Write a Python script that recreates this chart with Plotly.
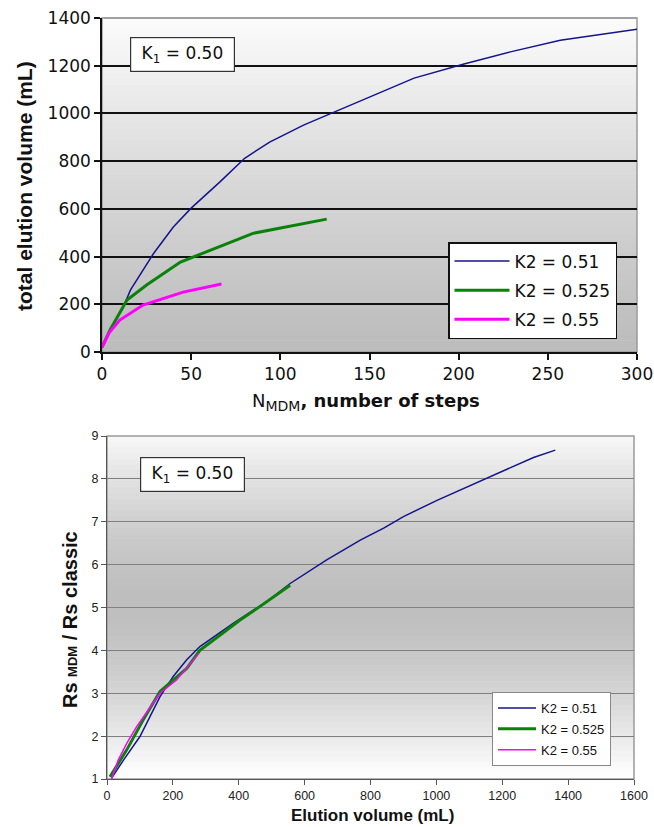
import plotly.graph_objects as go

# ---------------- data ----------------
# Top chart: total elution volume (mL) vs number of steps
steps_051 = [0, 6, 12, 16, 29, 40, 50, 66, 80, 94, 113, 126, 150, 175, 203, 229, 257, 300]
vol_051 = [20, 110, 190, 260, 414, 524, 603, 712, 812, 880, 951, 993, 1070, 1148, 1207, 1258, 1307, 1353]
steps_0525 = [0, 4.5, 14, 25, 44, 51, 85, 126]
vol_0525 = [20, 92, 218, 281, 377, 398, 498, 557]
steps_055 = [0, 4, 10, 23, 45.5, 67]
vol_055 = [20, 80, 134, 197, 251, 285]

# Bottom chart: Rs MDM / Rs classic vs elution volume (mL)
ev_051 = [14, 50, 100, 161, 201, 242, 282, 383, 485, 556, 667, 769, 840, 900, 1002, 1153, 1234, 1295, 1361]
rs_051 = [1.02, 1.44, 1.99, 2.92, 3.39, 3.78, 4.09, 4.63, 5.14, 5.56, 6.11, 6.57, 6.85, 7.12, 7.5, 8.01, 8.28, 8.5, 8.67]
ev_0525 = [9, 60, 110, 161, 242, 282, 404, 464, 556]
rs_0525 = [1.05, 1.68, 2.38, 3.04, 3.58, 4.0, 4.71, 5.02, 5.52]
ev_055 = [14, 34, 60, 90, 161, 211, 279]
rs_055 = [1.0, 1.44, 1.83, 2.22, 3.0, 3.31, 3.93]

series_names = ["K2 = 0.51", "K2 = 0.525", "K2 = 0.55"]
series_colors = ["#14148c", "#0a820a", "#ff00ff"]
top_widths = [1.5, 3, 3]
bot_widths = [1.5, 3, 1.5]

top_xticks = [0, 50, 100, 150, 200, 250, 300]
top_yticks = [0, 200, 400, 600, 800, 1000, 1200, 1400]
bot_xticks = [0, 200, 400, 600, 800, 1000, 1200, 1400, 1600]
bot_yticks = [1, 2, 3, 4, 5, 6, 7, 8, 9]

W, H = 654, 827
FONT = "Liberation Sans, Arial, sans-serif"
WIDE = "DejaVu Sans, Liberation Sans, sans-serif"

def px_dom_x(a, b):
    return [a / W, b / W]

def px_dom_y(top, bottom):
    return [1 - bottom / H, 1 - top / H]

fig = go.Figure()

top_data = [(steps_051, vol_051), (steps_0525, vol_0525), (steps_055, vol_055)]
bot_data = [(ev_051, rs_051), (ev_0525, rs_0525), (ev_055, rs_055)]

for i, (xs, ys) in enumerate(top_data):
    fig.add_trace(go.Scatter(x=xs, y=ys, mode="lines", name=series_names[i],
                             legendgroup=f"top{i}",
                             line=dict(color=series_colors[i], width=top_widths[i]),
                             xaxis="x", yaxis="y", legend="legend"))
for i, (xs, ys) in enumerate(bot_data):
    fig.add_trace(go.Scatter(x=xs, y=ys, mode="lines", name=series_names[i],
                             legendgroup=f"bot{i}",
                             line=dict(color=series_colors[i], width=bot_widths[i]),
                             xaxis="x2", yaxis="y2", legend="legend2"))

# gradient backgrounds built from strips
shapes = []
N = 60
def grey(v):
    v = int(round(v))
    return f"rgb({v},{v},{v})"

for k in range(N):
    t0, t1 = k / N, (k + 1) / N
    tm = (t0 + t1) / 2  # 0 bottom -> 1 top
    v = 188 + (252 - 188) * tm ** 1.2
    shapes.append(dict(type="rect", xref="x domain", yref="y domain", x0=0, x1=1,
                       y0=t0, y1=t1 + 0.002, fillcolor=grey(v), line=dict(width=0), layer="below"))
    d = abs(tm - 0.52) / 0.5
    v2 = 190 + (253 - 190) * min(1, d) ** 1.6
    shapes.append(dict(type="rect", xref="x2 domain", yref="y2 domain", x0=0, x1=1,
                       y0=t0, y1=t1 + 0.002, fillcolor=grey(v2), line=dict(width=0), layer="below"))

shapes.append(dict(type="rect", xref="x domain", yref="y domain", x0=0, x1=1, y0=0, y1=1,
                   line=dict(color="#9a9a9a", width=1.5), layer="below"))
shapes.append(dict(type="rect", xref="x2 domain", yref="y2 domain", x0=0, x1=1, y0=0, y1=1,
                   line=dict(color="#9a9a9a", width=1.5), layer="below"))
shapes.append(dict(type="line", xref="x domain", yref="y domain", x0=0.003, x1=1, y0=1, y1=1,
                   line=dict(color="#a0a0a0", width=2), layer="above"))

fig.update_layout(shapes=shapes)

fig.update_layout(
    width=W, height=H,
    margin=dict(l=0, r=0, t=0, b=0, autoexpand=False),
    paper_bgcolor="white",
    plot_bgcolor="rgba(0,0,0,0)",
    font=dict(family=FONT, color="#111"),
    xaxis=dict(domain=px_dom_x(102, 637), range=[0, 300], tickvals=top_xticks, automargin=False,
               showgrid=False, zeroline=False, showline=True, linecolor="#111", linewidth=1.5,
               ticks="outside", ticklen=6, tickcolor="#111", tickwidth=1.5,
               tickfont=dict(size=17, family=WIDE, color="#111"), anchor="y"),
    yaxis=dict(domain=px_dom_y(18, 352), range=[0, 1400], tickvals=top_yticks, automargin=False,
               showgrid=True, gridcolor="#111", gridwidth=1.5, zeroline=False,
               showline=True, linecolor="#111", linewidth=1.5,
               ticks="outside", ticklen=6, tickcolor="#111", tickwidth=1.5,
               tickfont=dict(size=17, family=WIDE, color="#111"), anchor="x"),
    xaxis2=dict(domain=px_dom_x(107, 634), range=[0, 1600], tickvals=bot_xticks, automargin=False,
                showgrid=False, zeroline=False, showline=True, linecolor="#555", linewidth=1.2,
                ticks="outside", ticklen=5, tickcolor="#555", tickwidth=1,
                tickfont=dict(size=12.5, family=FONT, color="#222"), anchor="y2"),
    yaxis2=dict(domain=px_dom_y(436, 779), range=[1, 9], tickvals=bot_yticks, automargin=False,
                showgrid=True, gridcolor="#7f7f7f", gridwidth=1, zeroline=False,
                showline=True, linecolor="#555", linewidth=1.2,
                ticks="outside", ticklen=5, tickcolor="#555", tickwidth=1,
                tickfont=dict(size=12.5, family=FONT, color="#222"), anchor="x2"),
    legend=dict(x=448 / W, y=1 - 242 / H, xanchor="left", yanchor="top", itemwidth=55,
                bgcolor="white", bordercolor="#111", borderwidth=1.5,
                font=dict(size=17, family=WIDE, color="#111"), tracegroupgap=4),
    legend2=dict(x=492 / W, y=1 - 692 / H, xanchor="left", yanchor="top", itemwidth=38,
                 bgcolor="white", bordercolor="#888", borderwidth=1,
                 font=dict(size=13, family=FONT, color="#111"), tracegroupgap=1),
    showlegend=True,
)

annotations = [
    dict(text="<b>total elution volume (mL)</b>", xref="paper", yref="paper",
         x=24 / W, y=1 - 186 / H, xanchor="center", yanchor="middle", textangle=-90, showarrow=False,
         font=dict(size=21, family=FONT, color="#111")),
    dict(text="N<span style='font-size:20px'><sub>MDM</sub></span><b>, number of steps</b>",
         xref="paper", yref="paper", x=366 / W, y=1 - 402 / H, xanchor="center", yanchor="middle",
         showarrow=False, font=dict(size=18, family=WIDE, color="#111")),
    dict(text="&nbsp;K<sub>1</sub> = 0.50&nbsp;", xref="paper", yref="paper",
         x=182 / W, y=1 - 55 / H, xanchor="center", yanchor="middle", showarrow=False, bgcolor="white",
         bordercolor="#333", borderwidth=1.2, borderpad=5,
         font=dict(size=17, family=WIDE, color="#111")),
    dict(text="<b>Rs <span style='font-size:13px'>MDM</span> / Rs classic</b>", xref="paper", yref="paper",
         x=70 / W, y=1 - 620 / H, xanchor="center", yanchor="middle", textangle=-90, showarrow=False,
         font=dict(size=20, family=FONT, color="#111")),
    dict(text="<b>Elution volume (mL)</b>", xref="paper", yref="paper",
         x=372 / W, y=1 - 815 / H, xanchor="center", yanchor="middle", showarrow=False,
         font=dict(size=17, family=FONT, color="#111")),
    dict(text="&nbsp;K<sub>1</sub> = 0.50&nbsp;", xref="paper", yref="paper",
         x=192 / W, y=1 - 474 / H, xanchor="center", yanchor="middle", showarrow=False, bgcolor="white",
         bordercolor="#333", borderwidth=1.2, borderpad=5,
         font=dict(size=17, family=WIDE, color="#111")),
]
fig.update_layout(annotations=annotations)

fig.write_html("out.html", config={"displayModeBar": False},
               post_script="document.body.style.margin='0';")
